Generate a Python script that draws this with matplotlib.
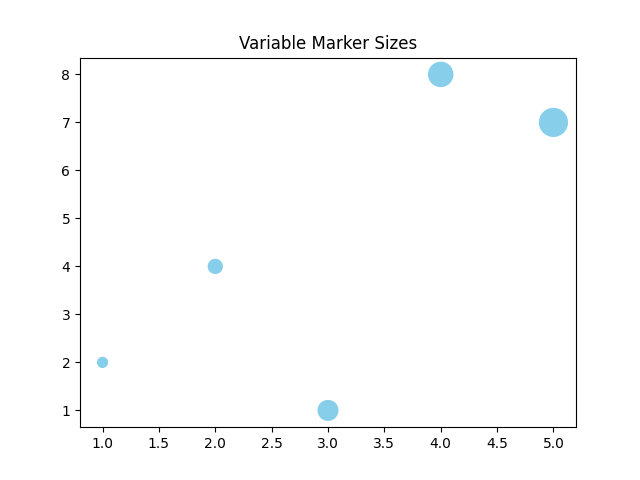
import matplotlib
matplotlib.use("Agg")
import matplotlib.pyplot as plt

x = [1, 2, 3, 4, 5]
y = [2, 4, 1, 8, 7]
sizes = [50, 100, 200, 300, 400]

fig, ax = plt.subplots(figsize=(6.4, 4.8), dpi=100)
ax.scatter(x, y, s=sizes, color="skyblue")
ax.set_title("Variable Marker Sizes")
fig.savefig("out.png")
